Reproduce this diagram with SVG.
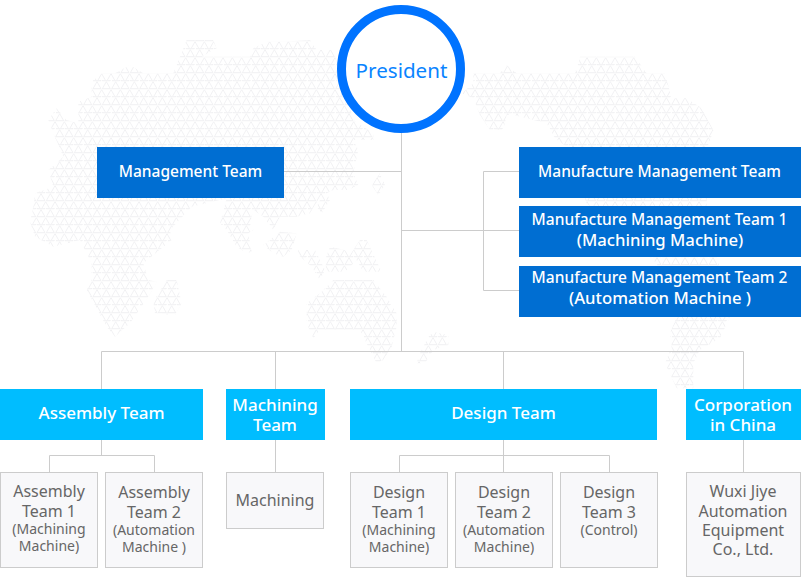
<svg xmlns="http://www.w3.org/2000/svg" width="801" height="580" viewBox="0 0 801 580">
<style>
text{font-family:"Noto Sans","Open Sans","Liberation Sans",sans-serif;text-anchor:middle}
.w{fill:#fff;font-size:15.500px;font-weight:500}
.x{fill:#fff;font-size:17px;font-weight:500}
.y{fill:#fff;font-size:16.700px;font-weight:500}
.g{fill:#666;font-size:16px}
.s{fill:#666;font-size:14px}
.d{fill:#006ed2}
.c{fill:#00bdff}
.b{fill:#f8f8fa;stroke:#ccc;stroke-width:1}
.l{fill:none;stroke:#ccc;stroke-width:1}
</style>
<defs>
<pattern id="tri" x="0" y="0" width="28" height="16" patternUnits="userSpaceOnUse">
<path d="M3.670 1.700l4 7h-8zM13 1.700l4 7h-8zM22.330 1.700l4 7h-8zM8.330 9.700l4 7h-8zM17.670 9.700l4 7h-8zM27 9.700l4 7h-8zM-1 9.700l4 7h-8zM31.670 1.700l4 7h-8zM3.670 -6.300l4 7h-8zM13 -6.300l4 7h-8zM22.330 -6.300l4 7h-8z" fill="none" stroke="#eeeef0" stroke-width=".8"/>
</pattern>
<clipPath id="map">
<polygon transform="translate(20 30) scale(.3333)" points="500,30 580,30 590,55 545,80 690,80 700,55 740,35 790,35 870,30 890,60 940,60 1000,270 1060,310 1060,330 1000,330 1015,360 1000,430 1015,465 985,480 940,480 900,500 870,550 830,560 780,560 760,600 730,560 700,540 690,580 700,600 685,610 695,665 680,670 650,650 620,600 600,580 620,505 515,530 450,600 455,630 370,700 385,750 410,755 385,800 330,880 285,920 260,890 200,780 215,750 215,700 180,630 100,650 45,620 30,575 40,530 45,490 100,470 85,420 130,380 100,310 85,270 110,235 140,270 175,280 175,215 215,200 215,155 245,130 285,130 330,105 370,130 460,130"/>
<polygon transform="translate(20 30) scale(.3333)" points="940,750 1060,750 1100,800 1130,850 1130,890 1115,950 1090,990 1070,1000 1050,960 1020,900 900,900 880,925 860,880 860,820 900,790"/>
<polygon transform="translate(20 30) scale(.3333)" points="835,660 885,660 915,720 900,750 875,710 830,670"/>
<polygon transform="translate(20 30) scale(.3333)" points="930,650 975,660 990,675 1020,630 1040,630 1085,725 1030,725 1010,690 975,725 920,725 915,690"/>
<polygon transform="translate(20 30) scale(.3333)" points="780,605 830,610 815,660 790,680 760,670 730,645"/>
<polygon transform="translate(20 30) scale(.3333)" points="1080,430 1095,465 1075,495 1055,465"/>
<polygon transform="translate(20 30) scale(.3333)" points="915,480 930,510 905,550 890,530"/>
<polygon transform="translate(20 30) scale(.3333)" points="440,750 470,750 485,820 465,855 405,850 400,815"/>
<polygon transform="translate(400 30) scale(.3333)" points="220,130 300,130 320,105 350,130 525,130 540,80 705,80 740,130 795,130 815,205 860,205 905,235 940,300 925,350 920,530 990,860 960,925 900,960 880,1000 880,1075 830,1075 795,1000 815,950 810,910 830,860 770,700 560,520 500,350 465,325 440,280 340,255 320,255 310,300 270,300 240,255 220,205 185,190 220,160"/>
<polygon transform="translate(400 30) scale(.3333)" points="100,905 145,915 145,945 100,960 75,1000 50,1000 60,970 85,920"/>
</clipPath>
</defs>
<rect width="801" height="580" fill="#fff"/>
<rect id="world-map" width="801" height="580" fill="url(#tri)" clip-path="url(#map)"/>
<g id="connectors" class="l">
<path d="M401.500 133V351.500M284 171.500H401.500M401.500 230.500H519M519 171.500H483.500V290.500H519"/>
<path d="M101.500 389V351.500H743.500V389M275.500 351.500V389M503.500 351.500V389"/>
<path d="M101.500 440V455.500M49.500 472V455.500H154.500V472"/>
<path d="M275.500 440V472"/>
<path d="M503.500 440V472M399.500 472V455.500H609.500V472"/>
<path d="M743.500 440V472"/>
</g>
<g id="president"><circle cx="401" cy="69" r="59.500" fill="#fff" stroke="#0073ff" stroke-width="9"/><text x="401.500" y="78" style="font-size:20.600px;fill:#0a84ff">President</text></g>
<g id="management-team"><rect class="d" x="97" y="147" width="187" height="51"/><text class="w" x="190.500" y="177">Management Team</text></g>
<g id="manufacture-management-team"><rect class="d" x="519" y="147" width="282" height="51"/><text class="w" x="659.500" y="177">Manufacture Management Team</text></g>
<g id="manufacture-management-team-1"><rect class="d" x="519" y="206" width="282" height="51"/><text class="w" x="659.500" y="225">Manufacture Management Team 1</text><text class="y" x="660" y="246">(Machining Machine)</text></g>
<g id="manufacture-management-team-2"><rect class="d" x="519" y="266" width="282" height="51"/><text class="w" x="659.500" y="283">Manufacture Management Team 2</text><text class="y" x="660" y="304">(Automation Machine )</text></g>
<g id="assembly-team"><rect class="c" x="0" y="389" width="203" height="51"/><text class="x" x="101.500" y="419">Assembly Team</text></g>
<g id="machining-team"><rect class="c" x="226" y="389" width="99" height="51"/><text class="x" x="275" y="411">Machining</text><text class="x" x="275" y="431">Team</text></g>
<g id="design-team"><rect class="c" x="350" y="389" width="307" height="51"/><text class="x" x="503.500" y="419">Design Team</text></g>
<g id="corporation-in-china"><rect class="c" x="686" y="389" width="115" height="51"/><text class="x" x="743" y="411">Corporation</text><text class="x" x="743" y="431">in China</text></g>
<g id="assembly-team-1"><rect class="b" x=".5" y="472.500" width="97" height="95"/><text class="g" x="49" y="497">Assembly</text><text class="g" x="49" y="517">Team 1</text><text class="s" x="49" y="534">(Machining</text><text class="s" x="49" y="551">Machine)</text></g>
<g id="assembly-team-2"><rect class="b" x="105.500" y="472.500" width="97" height="95"/><text class="g" x="154" y="498">Assembly</text><text class="g" x="154" y="518">Team 2</text><text class="s" x="154" y="535">(Automation</text><text class="s" x="154" y="552">Machine )</text></g>
<g id="machining"><rect class="b" x="226.500" y="472.500" width="97" height="56"/><text class="g" x="275" y="506">Machining</text></g>
<g id="design-team-1"><rect class="b" x="350.500" y="472.500" width="97" height="95"/><text class="g" x="399" y="498">Design</text><text class="g" x="399" y="518">Team 1</text><text class="s" x="399" y="535">(Machining</text><text class="s" x="399" y="552">Machine)</text></g>
<g id="design-team-2"><rect class="b" x="455.500" y="472.500" width="97" height="95"/><text class="g" x="504" y="498">Design</text><text class="g" x="504" y="518">Team 2</text><text class="s" x="504" y="535">(Automation</text><text class="s" x="504" y="552">Machine)</text></g>
<g id="design-team-3"><rect class="b" x="560.500" y="472.500" width="97" height="95"/><text class="g" x="609" y="498">Design</text><text class="g" x="609" y="518">Team 3</text><text class="s" x="609" y="535">(Control)</text></g>
<g id="wuxi-jiye"><rect class="b" x="686.500" y="472.500" width="114" height="104"/><text class="g" x="743" y="497">Wuxi Jiye</text><text class="g" x="743" y="517">Automation</text><text class="g" x="743" y="536">Equipment</text><text class="g" x="743" y="555">Co., Ltd.</text></g>
</svg>
